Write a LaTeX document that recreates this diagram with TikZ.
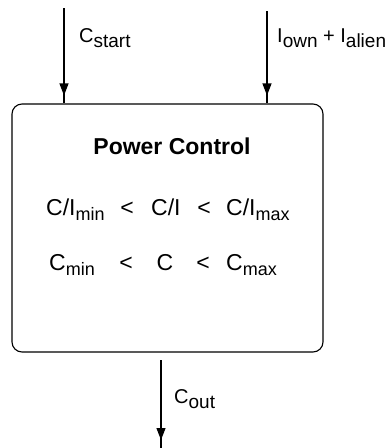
\documentclass[tikz,border=0pt]{standalone}
\usepackage{fontspec}
\setmainfont{Liberation Sans}
\usetikzlibrary{arrows.meta,decorations.markings}
\newcommand{\lowsub}[1]{\raisebox{-5pt}{\fontsize{18}{21}\selectfont #1}}
\newcommand{\lblsub}[1]{\raisebox{-5pt}{\fontsize{19}{22}\selectfont #1}}
\begin{document}
\begin{tikzpicture}[x=1pt,y=-1pt,
  flow/.style={line width=1.1pt,
    postaction={decorate},
    decoration={markings, mark=at position -8pt with {\arrow{Triangle[width=9pt,length=12pt]}}}},
  boxtext/.style={inner sep=0pt, anchor=base west, font=\fontsize{23}{27}\selectfont},
  lbl/.style={inner sep=0pt, anchor=base west, font=\fontsize{20}{24}\selectfont},
  lt/.style={inner sep=0pt, anchor=base, font=\fontsize{23}{27}\selectfont}]
\useasboundingbox (0,0) rectangle (389,448);
\node[draw, line width=1.1pt, rounded corners=10pt, minimum width=311pt, minimum height=248pt, inner sep=0pt] (box) at (167.5,228) {};
\node[inner sep=0pt, anchor=base, font=\fontsize{23}{27}\selectfont\bfseries] (title) at (172,154) {Power Control};
% line 1
\node[boxtext] (a1) at (46,215) {C/I\lowsub{min}};
\node[lt] (a2) at (127,215) {<};
\node[boxtext] (a3) at (151,215) {C/I};
\node[lt] (a4) at (204,215) {<};
\node[boxtext] (a5) at (226,215) {C/I\lowsub{max}};
% line 2
\node[boxtext] (b1) at (49,270) {C\lowsub{min}};
\node[lt] (b2) at (126,270) {<};
\node[lt] (b3) at (165,270) {C};
\node[lt] (b4) at (203,270) {<};
\node[boxtext] (b5) at (226,270) {C\lowsub{max}};
% inputs / output
\coordinate (s1) at (64,8);
\coordinate (s2) at (267,11);
\coordinate (o1) at (161,360);
\coordinate (o2) at (161,448);
\draw[flow] (s1) -- (s1 |- box.north);
\draw[flow] (s2) -- (s2 |- box.north);
\draw[flow] (o1) -- (o2);
\node[lbl] (l1) at (79,42) {C\lblsub{start}};
\node[lbl] (l2) at (277,42) {I\lblsub{own} + I\lblsub{alien}};
\node[lbl] (l3) at (174,403) {C\lblsub{out}};
\end{tikzpicture}
\end{document}
